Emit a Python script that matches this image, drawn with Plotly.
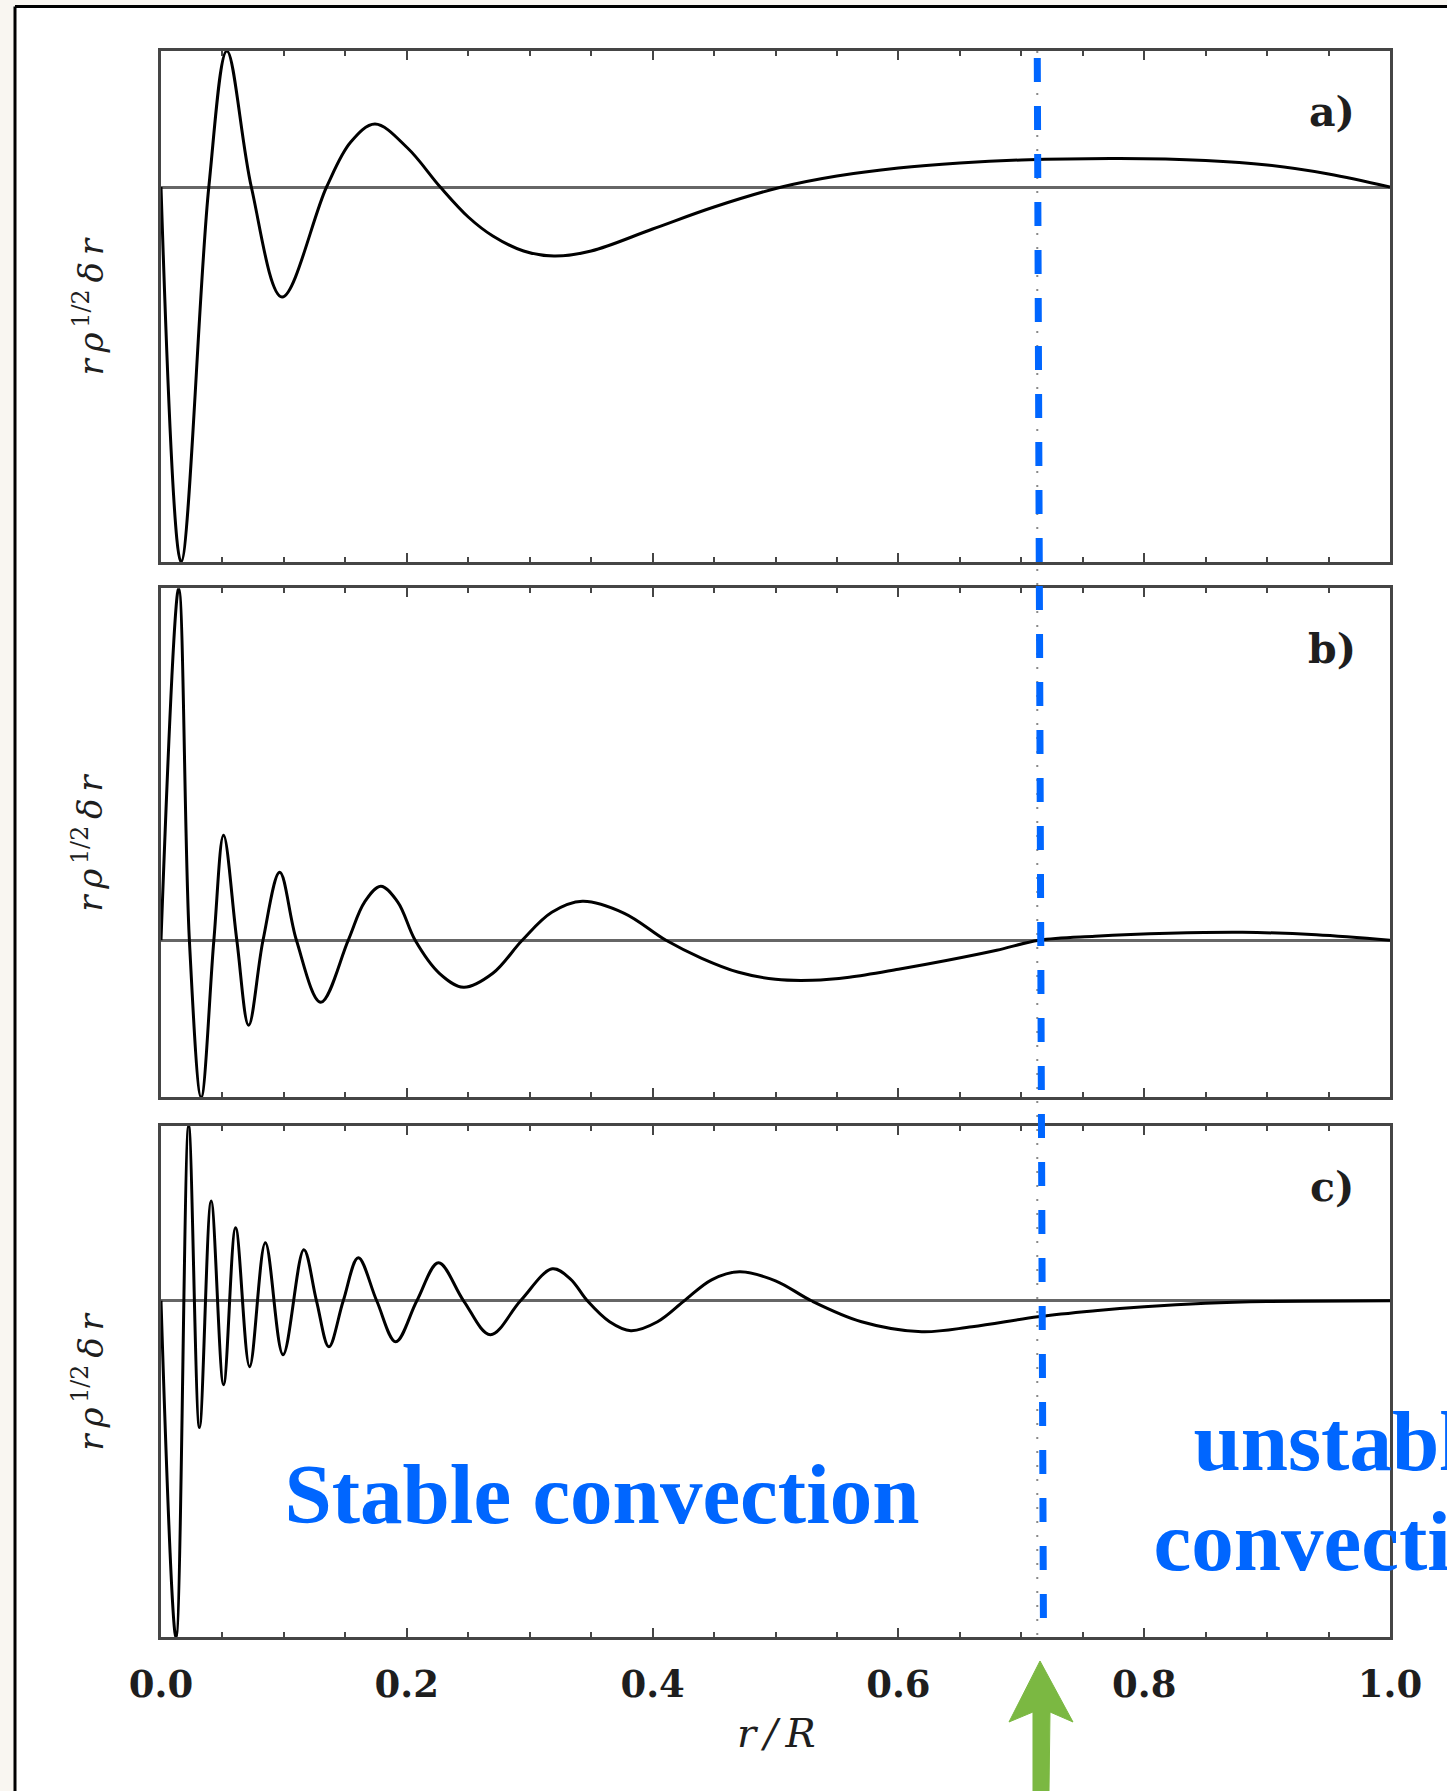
import plotly.graph_objects as go

W, H = 1447, 1791

# Radial displacement eigenfunctions r*rho^(1/2)*delta_r for three modes
# (arbitrary amplitude units, zero = equilibrium), sampled against r/R.
r_a = [0.000, 0.0163, 0.0389, 0.0536, 0.0735, 0.0985, 0.1347,
       0.1544, 0.1741, 0.2006, 0.2272, 0.2500, 0.2700, 0.2950, 0.3197, 0.3500,
       0.4000, 0.4500, 0.5050, 0.5500, 0.6000, 0.6500, 0.7000, 0.7800, 0.8500,
       0.9000, 0.9500, 1.0000]
amp_a = [0.00, -3.75, 0.00, 1.36, 0.00, -1.10, 0.00,
         0.45, 0.63, 0.39, 0.00, -0.30, -0.49, -0.64, -0.69, -0.64,
         -0.42, -0.20, 0.00, 0.11, 0.19, 0.24, 0.27, 0.285, 0.265,
         0.22, 0.13, 0.00]

r_b = [0.000, 0.0144, 0.0231, 0.0327, 0.0430, 0.0509, 0.0617, 0.0713, 0.0830,
       0.0966, 0.1102, 0.1300, 0.1523, 0.1655, 0.1788, 0.1928, 0.2068, 0.2265,
       0.2462, 0.2700, 0.2939, 0.3180, 0.3429, 0.3770, 0.4109, 0.4400, 0.4700,
       0.5000, 0.5300, 0.5600, 0.6000, 0.6400, 0.6800, 0.7143, 0.7600, 0.8200,
       0.8800, 0.9400, 1.0000]
amp_b = [0.00, 3.52, 0.00, -1.57, 0.00, 1.05, 0.00, -0.85, 0.00,
         0.68, 0.00, -0.62, 0.00, 0.38, 0.54, 0.38, 0.00, -0.33,
         -0.47, -0.33, 0.00, 0.28, 0.39, 0.27, 0.00, -0.18, -0.32,
         -0.39, -0.40, -0.37, -0.29, -0.20, -0.10, 0.00, 0.04, 0.07,
         0.08, 0.055, 0.00]

r_c = [0.000, 0.0122, 0.0225, 0.0313, 0.0408, 0.0509, 0.0607, 0.0721, 0.0849,
       0.0993, 0.1162, 0.1265, 0.1366, 0.1483, 0.1605, 0.1755, 0.1910, 0.2082,
       0.2258, 0.2462, 0.2680, 0.2925, 0.3184, 0.3330, 0.3469, 0.3650, 0.3823,
       0.4040, 0.4258, 0.4480, 0.4707, 0.5000, 0.5292, 0.5700, 0.6190, 0.6600,
       0.7135, 0.7600, 0.8000, 0.8500, 0.9000, 1.0000]
amp_c = [0.00, -3.37, 1.75, -1.27, 1.00, -0.84, 0.73, -0.66, 0.58,
         -0.54, 0.51, 0.00, -0.46, 0.00, 0.43, 0.00, -0.41, 0.00,
         0.38, 0.00, -0.34, 0.00, 0.32, 0.22, 0.00, -0.21, -0.30,
         -0.21, 0.00, 0.21, 0.29, 0.20, 0.00, -0.21, -0.31, -0.26,
         -0.16, -0.10, -0.06, -0.025, -0.008, 0.00]

MODES = [(r_a, amp_a), (r_b, amp_b), (r_c, amp_c)]
PANEL_TAGS = ["a)", "b)", "c)"]

CZ_BASE_TOP = 0.713      # base of the convection zone (upper end of marker)
CZ_BASE_BOTTOM = 0.718   # marker drawn slightly leaning

X_TICKS = [0.0, 0.2, 0.4, 0.6, 0.8, 1.0]
X_TICK_TEXT = ["0.0", "0.2", "0.4", "0.6", "0.8", "1.0"]
Y_LABEL = "<i>r\u2009ρ</i><sup>\u20091/2</sup><i>\u2009δ\u2009r</i>"
X_LABEL = "<i>r\u2009/\u2009R</i>"
REGION_TEXT = ["Stable convection", "unstable", "convection"]

BLUE = "#0066ff"
GREEN = "#7bb842"
FRAME = "#454545"


def px(x):
    return x / W


def py(y):
    return 1 - y / H


# panel boxes in page pixels: (top, bottom)
X_LEFT, X_RIGHT = 161.0, 1390.0
PANELS = [(51.0, 562.0), (588.3, 1097.3), (1126.0, 1637.3)]

fig = go.Figure()
layout = dict(
    template="none",
    width=W, height=H,
    margin=dict(l=0, r=0, t=0, b=0, pad=0, autoexpand=False),
    paper_bgcolor="#f9f6f1",
    plot_bgcolor="rgba(0,0,0,0)",
    showlegend=False,
)

annotations = []
for i, ((r, amp), (top, bot)) in enumerate(zip(MODES, PANELS)):
    n = "" if i == 0 else str(i + 1)
    fig.add_trace(go.Scatter(
        x=r, y=amp, mode="lines",
        line=dict(color="black", width=3, shape="spline", smoothing=1.0),
        xaxis="x" + n, yaxis="y" + n, hoverinfo="skip",
    ))
    lo, hi = min(amp), max(amp)
    layout["xaxis" + n] = dict(
        domain=[px(X_LEFT), px(X_RIGHT)], anchor="y" + n, automargin=False,
        range=[0, 1], tickmode="array", tickvals=X_TICKS, ticktext=X_TICK_TEXT,
        ticks="inside", ticklen=9, tickwidth=1.5, tickcolor=FRAME,
        minor=dict(dtick=0.05, tick0=0, ticks="inside", ticklen=5,
                   tickwidth=1.5, tickcolor=FRAME),
        showline=True, linecolor=FRAME, linewidth=3, mirror="ticks",
        showgrid=False, zeroline=False,
        showticklabels=(i == 2),
        tickfont=dict(family="DejaVu Serif", size=37, color="#1e1e1e",
                      weight="bold"),
        ticklabelstandoff=12,
    )
    layout["yaxis" + n] = dict(
        domain=[py(bot), py(top)], anchor="x" + n, automargin=False,
        range=[lo, hi], tickmode="array", tickvals=[lo, hi],
        ticks="inside", ticklen=20, tickwidth=1.5, tickcolor=FRAME,
        showticklabels=False,
        showline=True, linecolor=FRAME, linewidth=3, mirror="ticks",
        showgrid=False,
        zeroline=True, zerolinecolor="#666666", zerolinewidth=2.5,
    )
    annotations.append(dict(
        text=Y_LABEL, xref="paper", x=px(88), yref="y%s domain" % n, y=0.5,
        textangle=-90, showarrow=False, xanchor="center", yanchor="middle",
        font=dict(family="DejaVu Serif", size=34, color="#1e1e1e"),
    ))
    annotations.append(dict(
        text="<b>%s</b>" % PANEL_TAGS[i], xref="x%s domain" % n, x=0.953,
        yref="y%s domain" % n, y=0.88, showarrow=False,
        xanchor="center", yanchor="middle",
        font=dict(family="DejaVu Serif", size=41, color="#1e1e1e"),
    ))

annotations.append(dict(
    text=X_LABEL, xref="paper", x=px(776), yref="paper", y=py(1733),
    showarrow=False, xanchor="center", yanchor="middle",
    font=dict(family="DejaVu Serif", size=40, color="#1e1e1e"),
))
layout["annotations"] = annotations

# full-page overlay in pixel units so the region labels are clipped at the page edge
layout["xaxis4"] = dict(domain=[0, 1], range=[0, W], visible=False,
                        fixedrange=True, anchor="y4", automargin=False)
layout["yaxis4"] = dict(domain=[0, 1], range=[H, 0], visible=False,
                        fixedrange=True, anchor="x4", automargin=False)
fig.add_trace(go.Scatter(
    x=[602, 1347, 1347], y=[1502, 1449, 1549], text=REGION_TEXT,
    mode="text", textposition="middle center", cliponaxis=True,
    textfont=dict(family="Liberation Serif", size=85, color=BLUE, weight="bold"),
    xaxis="x4", yaxis="y4", hoverinfo="skip",
))

# green arrow pointing at the convection-zone base
arrow_pts = [(1040, 1661), (1073, 1722), (1050, 1712), (1049, 1791),
             (1033, 1791), (1033, 1712), (1009, 1722)]
arrow_path = "M " + " L ".join("%.5f,%.5f" % (px(x), py(y)) for x, y in arrow_pts) + " Z"

layout["shapes"] = [
    # white sheet behind the figure, with its top and left border lines
    dict(type="rect", xref="paper", yref="paper", layer="below",
         x0=px(15), x1=1, y0=0, y1=py(6.5),
         line=dict(width=0), fillcolor="white"),
    dict(type="line", xref="paper", yref="paper",
         x0=px(15), x1=1, y0=py(6.5), y1=py(6.5),
         line=dict(color="black", width=3)),
    dict(type="line", xref="paper", yref="paper",
         x0=px(15), x1=px(15), y0=py(6.5), y1=0,
         line=dict(color="black", width=3)),
    # thin dotted boundary line
    dict(type="line", xref="x", yref="paper",
         x0=CZ_BASE_TOP, x1=CZ_BASE_TOP, y0=py(PANELS[0][0]), y1=py(PANELS[2][1]),
         line=dict(color="#8a8a8a", width=2, dash="2px,12px")),
    # bold blue dashed marker
    dict(type="line", xref="x", yref="paper",
         x0=CZ_BASE_TOP, x1=CZ_BASE_BOTTOM, y0=py(58), y1=py(1622),
         line=dict(color=BLUE, width=7, dash="24px,24px")),
    dict(type="path", xref="paper", yref="paper", path=arrow_path,
         fillcolor=GREEN, line=dict(color=GREEN, width=1)),
]

fig.update_layout(**layout)
fig.write_html("out.html")
